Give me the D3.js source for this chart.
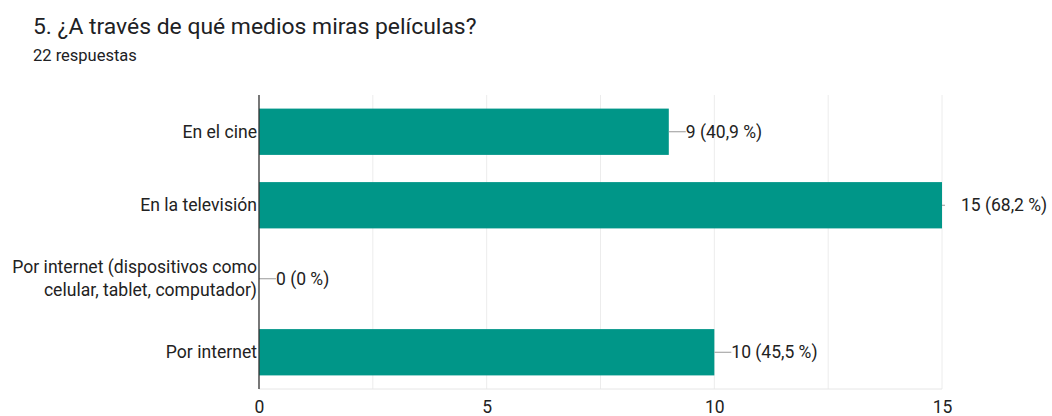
<!DOCTYPE html>
<html>
<head>
<meta charset="utf-8">
<script src="https://d3js.org/d3.v7.min.js"></script>
<style>
  body { margin: 0; background: #fff; }
  svg { font-family: Roboto, Arial, sans-serif; }
</style>
</head>
<body>
<script>
// data
const categories = ["En el cine", "En la televisión", "Por internet (dispositivos como\ncelular, tablet, computador)", "Por internet"];
const counts = [9, 15, 0, 10];
const pctLabels = ["40,9 %", "68,2 %", "0 %", "45,5 %"];
const tickValues = [0, 5, 10, 15];

const width = 1052, height = 416;
const plotLeft = 259, plotRight = 942, plotTop = 95, plotBottom = 389;

const svg = d3.select("body").append("svg")
  .attr("width", width)
  .attr("height", height);

// title
svg.append("text").attr("x", 33).attr("y", 34)
  .attr("font-size", 22.9).attr("fill", "#202124")
  .text("5. ¿A través de qué medios miras películas?");
svg.append("text").attr("x", 33).attr("y", 61)
  .attr("font-size", 16.5).attr("fill", "#202124")
  .text("22 respuestas");

const x = d3.scaleLinear().domain([0, 15]).range([plotLeft, plotRight]);
const y = d3.scaleBand().domain(d3.range(categories.length)).range([plotTop, plotBottom]).paddingInner(0.37).paddingOuter(0.185);

// gridlines (major + minor)
const grid = d3.range(0, 15.01, 2.5);
svg.append("g").selectAll("line").data(grid).join("line")
  .attr("x1", d => x(d)).attr("x2", d => x(d))
  .attr("y1", plotTop).attr("y2", plotBottom)
  .attr("stroke", "#ececec").attr("stroke-width", 1);
svg.append("line").attr("x1", plotLeft).attr("x2", plotRight).attr("y1", plotBottom).attr("y2", plotBottom)
  .attr("stroke", "#e6e6e6");

// bars
svg.append("g").selectAll("rect").data(counts).join("rect")
  .attr("x", x(0)).attr("y", (d, i) => y(i))
  .attr("width", d => x(d) - x(0)).attr("height", y.bandwidth())
  .attr("fill", "#009688");

// value labels with leader lines
const lab = svg.append("g").selectAll("g").data(counts).join("g")
  .attr("transform", (d, i) => `translate(${x(d)},${y(i) + y.bandwidth() / 2})`);
lab.append("line").attr("x1", 0).attr("x2", (d) => d === 15 ? 3 : 17)
  .attr("stroke", "#999").attr("stroke-width", 1);
lab.append("text")
  .attr("x", d => d === 15 ? 19 : 17).attr("dy", "0.35em")
  .attr("font-size", 17.5).attr("fill", "#222")
  .text((d, i) => `${d} (${pctLabels[i]})`);

// category labels
const cat = svg.append("g").selectAll("text").data(categories).join("text")
  .attr("text-anchor", "end").attr("font-size", 17.6).attr("fill", "#222")
  .attr("transform", (d, i) => `translate(${plotLeft - 2},${y(i) + y.bandwidth() / 2})`);
cat.each(function(d) {
  const lines = d.split("\n");
  const t = d3.select(this);
  lines.forEach((l, k) => {
    t.append("tspan").attr("x", 0)
      .attr("y", (k - (lines.length - 1) / 2) * 23)
      .attr("dy", "0.35em").text(l);
  });
});

// left axis line
svg.append("line").attr("x1", plotLeft).attr("x2", plotLeft).attr("y1", plotTop).attr("y2", plotBottom)
  .attr("stroke", "#333").attr("stroke-width", 1.3);

// x axis tick labels
const xAxis = d3.axisBottom(x).tickValues(tickValues).tickSize(0).tickPadding(12);
const gx = svg.append("g").attr("transform", `translate(0,${plotBottom})`).call(xAxis);
gx.select(".domain").remove();
gx.selectAll("text").attr("font-size", 17.5).attr("fill", "#222").attr("font-family", "Roboto, Arial, sans-serif");
</script>
</body>
</html>
